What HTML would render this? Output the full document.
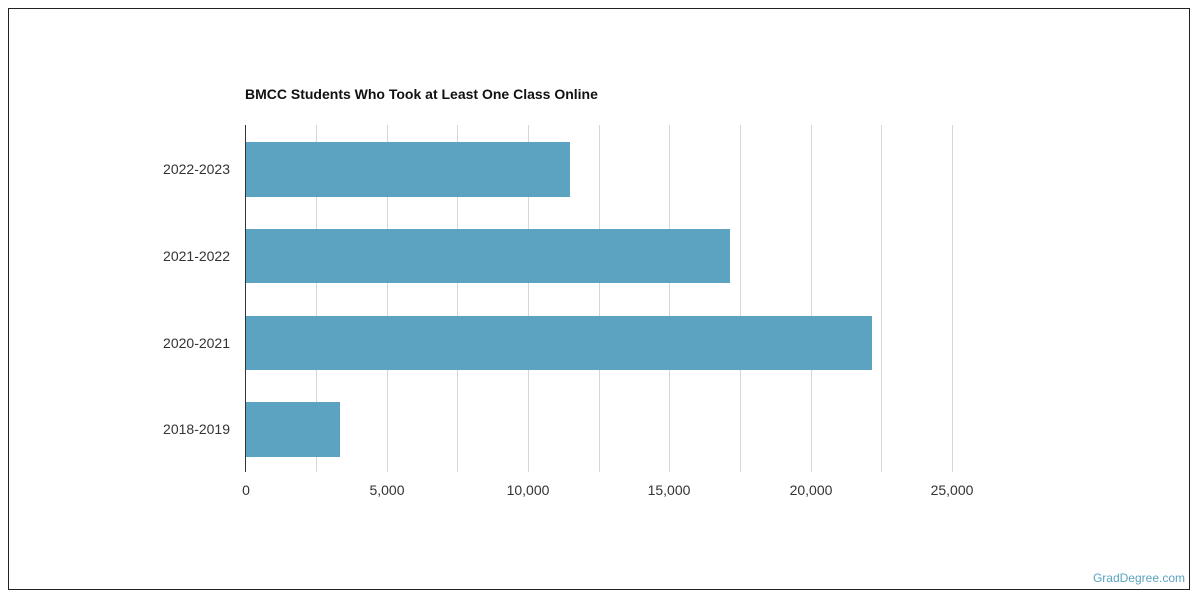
<!DOCTYPE html>
<html><head><style>body{margin:0;background:#fff}</style></head><body>
<svg width="1200" height="600" xmlns="http://www.w3.org/2000/svg" font-family="Liberation Sans, sans-serif">
<rect x="8.5" y="8.5" width="1181" height="581" fill="#fff" stroke="#222" stroke-width="1"/>
<text x="245" y="99" font-size="14" font-weight="bold" fill="#111">BMCC Students Who Took at Least One Class Online</text>
<g stroke="#d6d6d6" stroke-width="1">
<line x1="316.5" y1="125" x2="316.5" y2="472"/><line x1="387.5" y1="125" x2="387.5" y2="472"/>
<line x1="457.5" y1="125" x2="457.5" y2="472"/><line x1="528.5" y1="125" x2="528.5" y2="472"/>
<line x1="599.5" y1="125" x2="599.5" y2="472"/><line x1="669.5" y1="125" x2="669.5" y2="472"/>
<line x1="740.5" y1="125" x2="740.5" y2="472"/><line x1="811.5" y1="125" x2="811.5" y2="472"/>
<line x1="881.5" y1="125" x2="881.5" y2="472"/><line x1="952.5" y1="125" x2="952.5" y2="472"/>
</g>
<g fill="#5ba3c0">
<rect x="245" y="142" width="325" height="55"/>
<rect x="245" y="229" width="485" height="54"/>
<rect x="245" y="316" width="627" height="54"/>
<rect x="245" y="402" width="95" height="55"/>
</g>
<line x1="245.5" y1="125" x2="245.5" y2="472" stroke="#333" stroke-width="1"/>
<g font-size="14" fill="#333" text-anchor="end">
<text x="230" y="174">2022-2023</text><text x="230" y="261">2021-2022</text>
<text x="230" y="348">2020-2021</text><text x="230" y="434">2018-2019</text>
</g>
<g font-size="14" fill="#333" text-anchor="middle">
<text x="246" y="495">0</text><text x="387" y="495">5,000</text><text x="528" y="495">10,000</text>
<text x="669" y="495">15,000</text><text x="811" y="495">20,000</text><text x="952" y="495">25,000</text>
</g>
<text x="1185" y="582" font-size="12" fill="#5ba3c0" text-anchor="end">GradDegree.com</text>
</svg>
</body></html>
